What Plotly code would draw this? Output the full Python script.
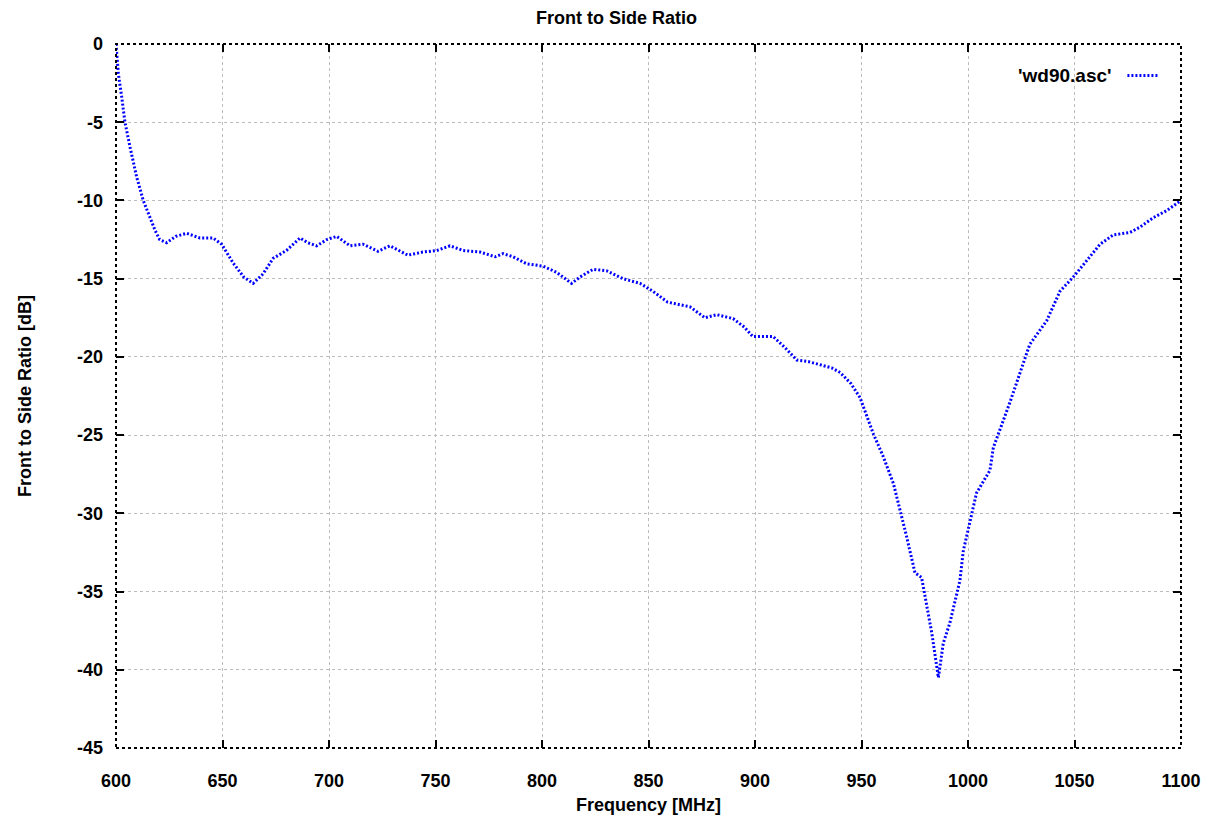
import plotly.graph_objects as go

freq_mhz = [600, 601.1, 602.7, 604.2, 606.6, 609.7, 612.8, 615.2, 618.3, 620.5, 623.8, 628, 633.2,
            639.4, 645.6, 649.6, 655, 660, 664.4, 669, 673.8, 680, 686.4, 690, 694.2, 699, 703.6,
            709.9, 716, 723, 728.6, 737, 744, 750.6, 756.8, 763, 771, 778, 781.7, 786.4, 792.8,
            800.5, 806.9, 813.9, 817.8, 824, 830.4, 838, 846, 852, 859, 869.5, 876.5, 882, 889.7,
            895, 899, 908.5, 914, 919.6, 925, 930.5, 936, 940, 945, 949.3, 955.5, 960, 965, 971.2,
            975.1, 978.2, 983, 986.1, 988.4, 991.5, 996.2, 997.8, 1001.7, 1004, 1010.3, 1011.9,
            1019.7, 1026, 1029, 1036.9, 1043.2, 1049.4, 1055.7, 1062, 1068.2, 1076, 1080.8, 1087,
            1093.3, 1100]
fsr_db = [0, -1.9, -3.4, -5.0, -6.6, -8.5, -10.0, -10.8, -11.9, -12.5, -12.7, -12.3, -12.1,
          -12.4, -12.4, -12.8, -14.0, -14.9, -15.3, -14.7, -13.7, -13.2, -12.4, -12.7, -12.9, -12.5, -12.3,
          -12.9, -12.8, -13.25, -12.9, -13.5, -13.3, -13.2, -12.9, -13.2, -13.3, -13.6, -13.4, -13.6, -14.05,
          -14.2, -14.6, -15.3, -14.9, -14.4, -14.5, -15.0, -15.3, -15.8, -16.5, -16.8, -17.5, -17.3, -17.55,
          -18.1, -18.7, -18.7, -19.4, -20.2, -20.3, -20.5, -20.7, -21.0, -21.7, -22.6, -24.9, -26.3, -28.1, -31.5,
          -33.8, -34.1, -37.65, -40.5, -38.3, -37.0, -34.3, -32.4, -30.0, -28.7, -27.25, -25.8,
          -22.9, -20.3, -19.2, -17.7, -15.8, -14.9, -13.85, -12.8, -12.2, -12.05, -11.7, -11.1,
          -10.65, -10.0]

x_ticks = [600, 650, 700, 750, 800, 850, 900, 950, 1000, 1050, 1100]
y_ticks = [0, -5, -10, -15, -20, -25, -30, -35, -40, -45]

FONT = "Liberation Sans"
FS = 18

fig = go.Figure()
fig.add_trace(go.Scatter(
    x=freq_mhz, y=fsr_db, mode="lines", name=" ",
    line=dict(color="#0000ff", width=3, dash="2px,2px"),
    showlegend=True,
))

axis_common = dict(
    showgrid=True, gridcolor="#bcbcbc", gridwidth=1, griddash="dot",
    zeroline=False, showline=False,
    ticks="inside", ticklen=8, tickwidth=2, tickcolor="black", mirror="ticks",
    tickfont=dict(family=FONT, size=FS, color="black"),
)

fig.update_layout(
    width=1217, height=819,
    paper_bgcolor="white", plot_bgcolor="white",
    margin=dict(l=108, r=44, t=36, b=79),
    title=dict(text="<b>Front to Side Ratio</b>", x=0.5, xanchor="center", y=0.988, yanchor="middle",
               font=dict(family=FONT, size=FS, color="black")),
    xaxis=dict(range=[600, 1100], tickvals=x_ticks, ticktext=[f"<b>{v}</b>" for v in x_ticks],
               ticklabelstandoff=20,
               title=dict(text="<b>Frequency [MHz]</b>", standoff=8,
                          font=dict(family=FONT, size=FS, color="black")),
               **axis_common),
    yaxis=dict(range=[-45, 0], tickvals=y_ticks, ticktext=[f"<b>{v}</b>" for v in y_ticks],
               ticklabelstandoff=12,
               title=dict(text="<b>Front to Side Ratio [dB]</b>", standoff=40,
                          font=dict(family=FONT, size=FS, color="black")),
               **axis_common),
    legend=dict(x=0.945, y=0.955, xanchor="left", yanchor="middle", bgcolor="rgba(0,0,0,0)",
                font=dict(family=FONT, size=FS, color="black"), itemwidth=30),
    showlegend=True,
)

fig.add_annotation(text="<b>'wd90.asc'</b>", xref="paper", yref="paper", x=0.937, y=0.955,
                   xanchor="right", yanchor="middle", showarrow=False,
                   font=dict(family=FONT, size=FS + 1, color="black"))

fig.add_shape(type="rect", xref="paper", yref="paper", x0=0, y0=0, x1=1, y1=1,
              line=dict(color="black", width=2, dash="dot"), layer="above")

fig.write_html("out.html")
